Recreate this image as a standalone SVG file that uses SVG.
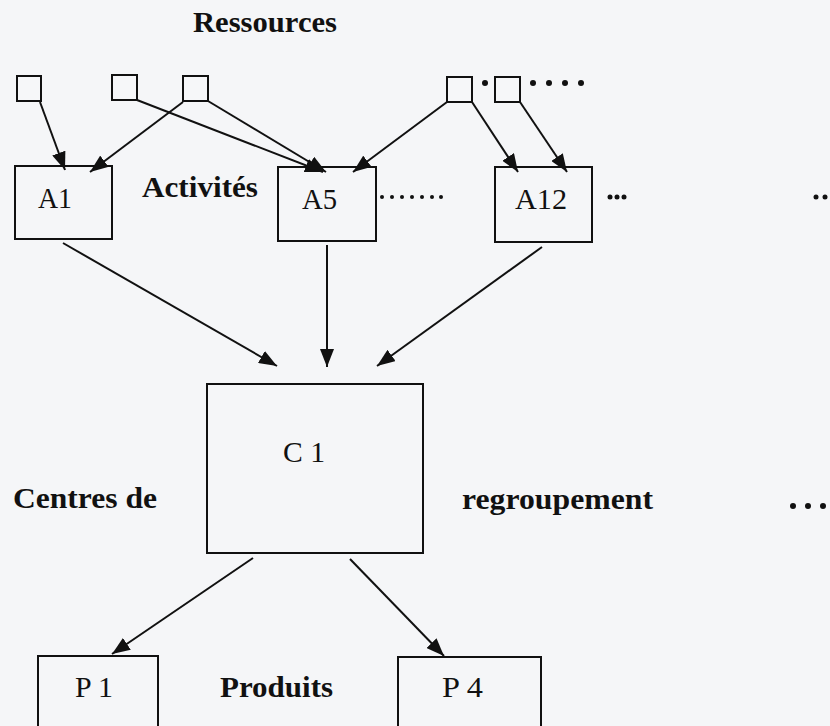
<svg xmlns="http://www.w3.org/2000/svg" width="830" height="726" viewBox="0 0 830 726">
  <style>
    .box { fill: none; stroke: #111; stroke-width: 2; }
    .res { fill: #f6f7f9; stroke: #111; stroke-width: 2; }
    .edge { fill: none; stroke: #111; stroke-width: 2; }
    .lbl { font-family: "Liberation Serif", "Times New Roman", serif; font-size: 30px; fill: #111; }
    .title { font-family: "Liberation Serif", "Times New Roman", serif; font-size: 30px; font-weight: bold; fill: #111; }
    .dot { fill: #111; }
  </style>
  <defs>
    <marker id="arrow" viewBox="0 0 18 14" refX="18" refY="7" markerWidth="18" markerHeight="14" markerUnits="userSpaceOnUse" orient="auto">
      <path d="M0,0 L18,7 L0,14 z" fill="#111"/>
    </marker>
  </defs>

  <rect width="830" height="726" fill="#f5f6f8"/>

  <!-- section titles -->
  <text class="title" x="193" y="32" textLength="144" lengthAdjust="spacingAndGlyphs">Ressources</text>
  <text class="title" x="142" y="197" textLength="116" lengthAdjust="spacingAndGlyphs">Activités</text>
  <text class="title" x="13" y="508" textLength="144" lengthAdjust="spacingAndGlyphs">Centres de</text>
  <text class="title" x="462" y="509" textLength="191" lengthAdjust="spacingAndGlyphs">regroupement</text>
  <text class="title" x="220" y="697" textLength="113" lengthAdjust="spacingAndGlyphs">Produits</text>

  <!-- resources -->
  <g id="r1"><rect class="res" x="17" y="76" width="24" height="25"/></g>
  <g id="r2"><rect class="res" x="112" y="75" width="25" height="25"/></g>
  <g id="r3"><rect class="res" x="183" y="76" width="25" height="25"/></g>
  <g id="r4"><rect class="res" x="447" y="77" width="25" height="25"/></g>
  <g id="r5"><rect class="res" x="495" y="77" width="25" height="25"/></g>

  <!-- ellipsis dots -->
  <g id="dots">
    <circle class="dot" cx="485" cy="83" r="3"/>
    <circle class="dot" cx="533" cy="83" r="3"/>
    <circle class="dot" cx="549" cy="83" r="3"/>
    <circle class="dot" cx="565" cy="83" r="3"/>
    <circle class="dot" cx="581" cy="83" r="3"/>

    <circle class="dot" cx="382" cy="197" r="2"/>
    <circle class="dot" cx="392" cy="197" r="2"/>
    <circle class="dot" cx="402" cy="197" r="2"/>
    <circle class="dot" cx="412" cy="197" r="2"/>
    <circle class="dot" cx="422" cy="197" r="2"/>
    <circle class="dot" cx="432" cy="197" r="2"/>
    <circle class="dot" cx="441" cy="197" r="2"/>

    <circle class="dot" cx="610" cy="197" r="2.5"/>
    <circle class="dot" cx="617" cy="197" r="2.5"/>
    <circle class="dot" cx="624" cy="197" r="2.5"/>

    <circle class="dot" cx="816" cy="197" r="2.5"/>
    <circle class="dot" cx="825" cy="197" r="2.5"/>

    <circle class="dot" cx="793" cy="506" r="3"/>
    <circle class="dot" cx="808" cy="506" r="3"/>
    <circle class="dot" cx="823" cy="506" r="3"/>
  </g>

  <!-- activities -->
  <g id="a1">
    <rect class="box" x="15" y="166" width="97" height="73"/>
    <text class="lbl" x="38" y="208" textLength="34" lengthAdjust="spacingAndGlyphs">A1</text>
  </g>
  <g id="a5">
    <rect class="box" x="278" y="167" width="98" height="74"/>
    <text class="lbl" x="302" y="209" textLength="35" lengthAdjust="spacingAndGlyphs">A5</text>
  </g>
  <g id="a12">
    <rect class="box" x="495" y="167" width="97" height="75"/>
    <text class="lbl" x="515" y="209" textLength="52" lengthAdjust="spacingAndGlyphs">A12</text>
  </g>

  <!-- regrouping centre -->
  <g id="c1">
    <rect class="box" x="207" y="384" width="216" height="169"/>
    <text class="lbl" x="283" y="462" font-size="33" textLength="42" lengthAdjust="spacingAndGlyphs">C 1</text>
  </g>

  <!-- products -->
  <g id="p1">
    <rect class="box" x="38" y="656" width="120" height="90"/>
    <text class="lbl" x="75" y="697" textLength="38" lengthAdjust="spacingAndGlyphs">P 1</text>
  </g>
  <g id="p4">
    <rect class="box" x="398" y="657" width="143" height="90"/>
    <text class="lbl" x="442" y="697" textLength="41" lengthAdjust="spacingAndGlyphs">P 4</text>
  </g>

  <!-- connectors -->
  <g id="edges">
    <line class="edge" x1="40" y1="102" x2="65" y2="170" marker-end="url(#arrow)"/>
    <line class="edge" x1="183" y1="102" x2="90" y2="172" marker-end="url(#arrow)"/>
    <line class="edge" x1="137" y1="100" x2="323" y2="172" marker-end="url(#arrow)"/>
    <line class="edge" x1="208" y1="101" x2="326" y2="172" marker-end="url(#arrow)"/>
    <line class="edge" x1="447" y1="102" x2="353" y2="172" marker-end="url(#arrow)"/>
    <line class="edge" x1="472" y1="102" x2="518" y2="172" marker-end="url(#arrow)"/>
    <line class="edge" x1="520" y1="102" x2="567" y2="172" marker-end="url(#arrow)"/>

    <line class="edge" x1="63" y1="243" x2="277" y2="366" marker-end="url(#arrow)"/>
    <line class="edge" x1="327" y1="245" x2="327" y2="367" marker-end="url(#arrow)"/>
    <line class="edge" x1="542" y1="247" x2="377" y2="366" marker-end="url(#arrow)"/>

    <line class="edge" x1="253" y1="558" x2="112" y2="654" marker-end="url(#arrow)"/>
    <line class="edge" x1="350" y1="559" x2="444" y2="656" marker-end="url(#arrow)"/>
  </g>
</svg>
